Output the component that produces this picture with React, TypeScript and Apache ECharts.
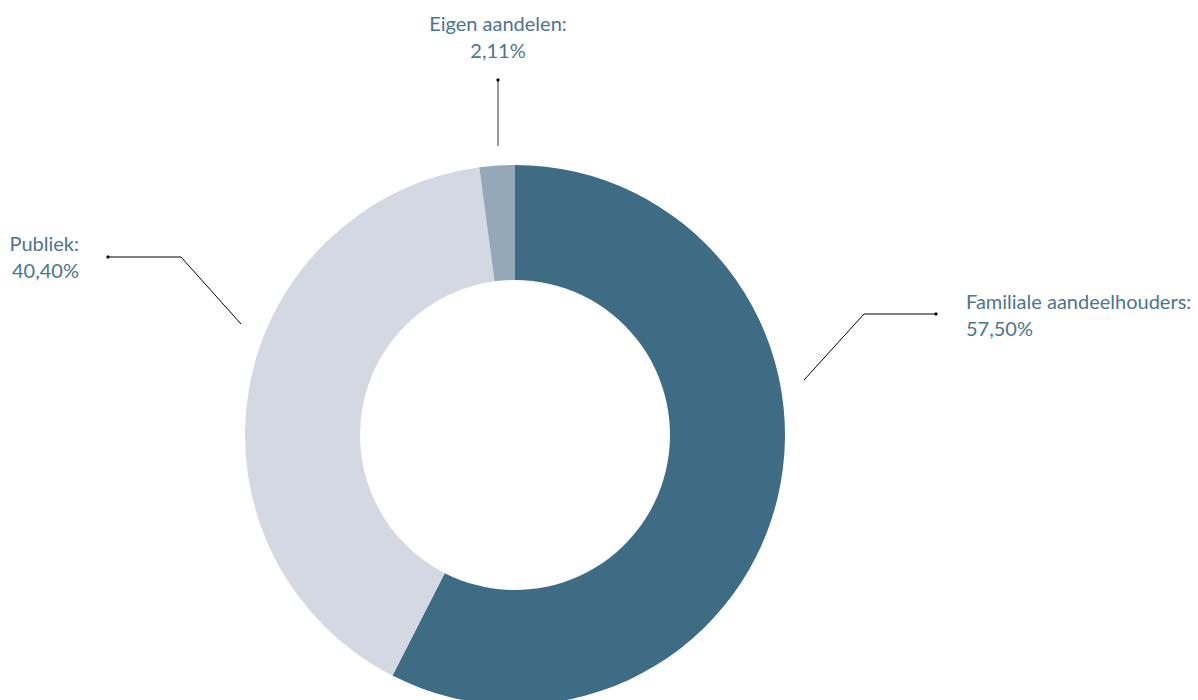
import React, { useEffect, useRef } from "react";
import * as echarts from "echarts";

const categories = ["Familiale aandeelhouders", "Publiek", "Eigen aandelen"];
const values = [57.5, 40.4, 2.11];
const colors = ["#3e6c84", "#d3d8e2", "#95a8b9"];

const labelPos = [
  { x: 966, y: 287, align: "left", line: [[804, 380], [864, 314], [936, 314]] },
  { x: 79, y: 229, align: "right", line: [[241, 324], [181, 257], [108, 257]] },
  { x: 498, y: 9, align: "center", line: [[498, 146], [498, 113], [498, 80]] },
];

export default function App() {
  const ref = useRef<HTMLDivElement>(null);
  useEffect(() => {
    const chart = echarts.init(ref.current!, null, { renderer: "svg" });
    const fmt = (v: number) => v.toFixed(2).replace(".", ",") + "%";
    chart.setOption({
      animation: false,
      backgroundColor: "#ffffff",
      series: [
        {
          type: "pie",
          center: [515, 435],
          radius: [155, 270],
          startAngle: 90,
          clockwise: true,
          avoidLabelOverlap: false,
          data: categories.map((name, i) => ({
            name,
            value: values[i],
            itemStyle: { color: colors[i] },
            labelLine: {
              lineStyle:
                i === 2
                  ? { color: "#777777", width: 1.5 }
                  : { color: "#000000", width: 1 },
            },
          })),
          label: {
            show: true,
            position: "outside",
            formatter: (p: any) => `${p.name}:\n${fmt(p.value)}`,
            color: "#4a7590",
            fontFamily: "Lato",
            fontSize: 20,
            lineHeight: 27,
          },
          labelLine: { show: true, length: 20, length2: 20 },
          labelLayout: (params: any) => {
            const p = labelPos[params.dataIndex];
            return {
              x: p.x,
              y: p.y,
              align: p.align,
              verticalAlign: "top",
              labelLinePoints: p.line,
            };
          },
          emphasis: { disabled: true },
        },
      ],
      graphic: labelPos.map((p) => ({
        type: "circle",
        shape: { cx: p.line[2][0], cy: p.line[2][1], r: 1.6 },
        style: { fill: "#000000" },
        z: 10,
      })),
    });
    return () => chart.dispose();
  }, []);
  return (
    <div
      ref={ref}
      style={{ position: "fixed", left: 0, top: 0, width: 1198, height: 700 }}
    />
  );
}
